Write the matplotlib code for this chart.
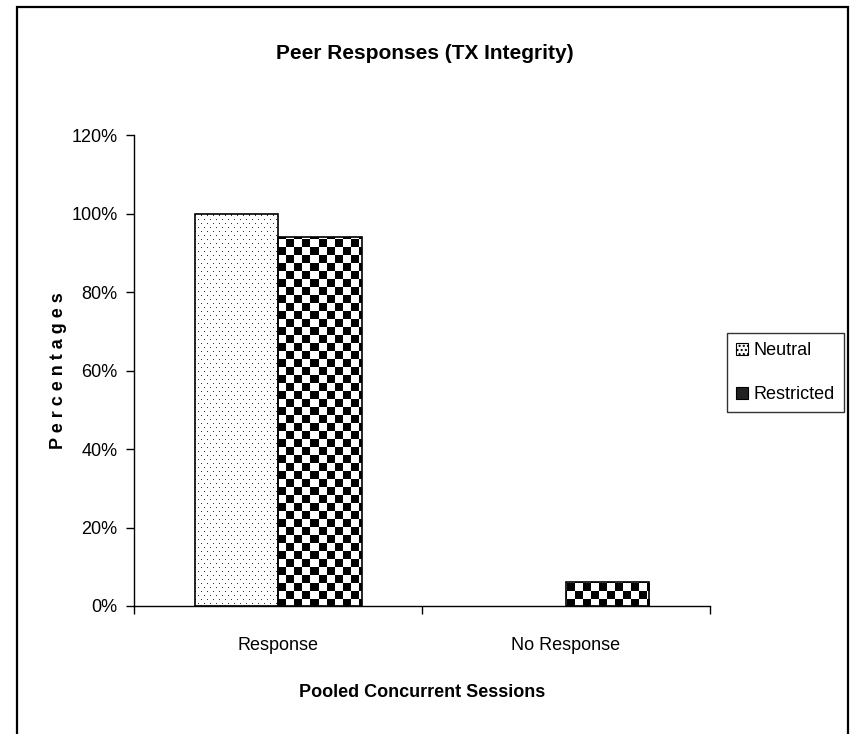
import numpy as np
import matplotlib
matplotlib.use('Agg')
import matplotlib.pyplot as plt
from matplotlib.patches import Rectangle, Patch
from matplotlib.ticker import PercentFormatter

# --- data --- #
categories = ['Response', 'No Response']
neutral = [100, 0]
restricted = [94, 6]
series_names = ['Neutral', 'Restricted']

plt.rcParams['font.family'] = ['Liberation Sans', 'DejaVu Sans']

fig = plt.figure(figsize=(8.5, 7.34), dpi=100)
ax = fig.add_axes([0.158, 0.1744, 0.677, 0.6416])

x = np.arange(len(categories))
w = 0.29
b0 = ax.bar(x - w / 2, neutral, w, facecolor='none', edgecolor='black', linewidth=1.2, zorder=3)
b1 = ax.bar(x + w / 2, restricted, w, facecolor='none', edgecolor='black', linewidth=1.2, zorder=3)
for bar in list(b0) + list(b1):
    if bar.get_height() <= 0:
        bar.set_linewidth(0)

ax.set_xlim(-0.5, len(categories) - 0.5)
ax.set_ylim(0, 120)

# --- fill patterns (dots / checkerboard) clipped to the bars --- #
fig.canvas.draw()
bb = ax.get_window_extent()
W, H = int(round(bb.width)), int(round(bb.height))
yy, xx = np.mgrid[0:H, 0:W]

checker = (((xx // 8) + (yy // 8)) % 2).astype(float)  # 1 = white, 0 = black
dots = np.ones((H, W))
row = yy % 8
dmask = ((row == 0) & (xx % 6 == 0)) | ((row == 4) & (xx % 6 == 3))
dots[dmask] = 0.2

ext = (ax.get_xlim()[0], ax.get_xlim()[1], ax.get_ylim()[0], ax.get_ylim()[1])
for bars, pat in ((b0, dots), (b1, checker)):
    for bar in bars:
        if bar.get_height() <= 0:
            continue
        im = ax.imshow(pat, cmap='gray', vmin=0, vmax=1, extent=ext, origin='upper',
                       interpolation='nearest', aspect='auto', zorder=2)
        im.set_clip_path(bar)
ax.set_xlim(-0.5, len(categories) - 0.5)
ax.set_ylim(0, 120)

# --- axes styling --- #
for s in ('top', 'right'):
    ax.spines[s].set_visible(False)
ax.spines['left'].set_linewidth(1.0)
ax.spines['bottom'].set_linewidth(1.0)

ax.set_yticks(np.arange(0, 121, 20))
ax.yaxis.set_major_formatter(PercentFormatter(decimals=0))
ax.tick_params(axis='y', length=6, width=1, labelsize=13, pad=6)

ax.set_xticks(x)
ax.set_xticklabels(categories)
ax.set_xticks(np.arange(len(categories) + 1) - 0.5, minor=True)
ax.tick_params(axis='x', which='major', length=0, labelsize=13, pad=22)
ax.tick_params(axis='x', which='minor', length=6, width=1)

ax.set_xlabel('Pooled Concurrent Sessions', fontsize=13, fontweight='bold', labelpad=22)
ax.set_ylabel('P e r c e n t a g e s', fontsize=13, fontweight='bold', labelpad=3)

fig.text(0.5, 0.927, 'Peer Responses (TX Integrity)', ha='center', va='center',
         fontsize=15, fontweight='bold')

handles = [Patch(facecolor='white', edgecolor='black', hatch='....', linewidth=0.8),
           Patch(facecolor='#222222', edgecolor='black', linewidth=0.8)]
leg = fig.legend(handles, series_names, loc='center left', bbox_to_anchor=(0.855, 0.492),
                 fontsize=13, frameon=True, fancybox=False, handlelength=0.7,
                 handleheight=0.7, handletextpad=0.3, labelspacing=1.5,
                 borderpad=0.5, borderaxespad=0)
leg.get_frame().set_edgecolor('black')
leg.get_frame().set_linewidth(1.0)

# outer border of the chart area
fig.patches.append(Rectangle((17 / 850, -0.05), (848 - 17) / 850, 1.05 - 7 / 734,
                             transform=fig.transFigure, fill=False, edgecolor='black',
                             linewidth=1.6))

fig.savefig('out.png', dpi=100)
